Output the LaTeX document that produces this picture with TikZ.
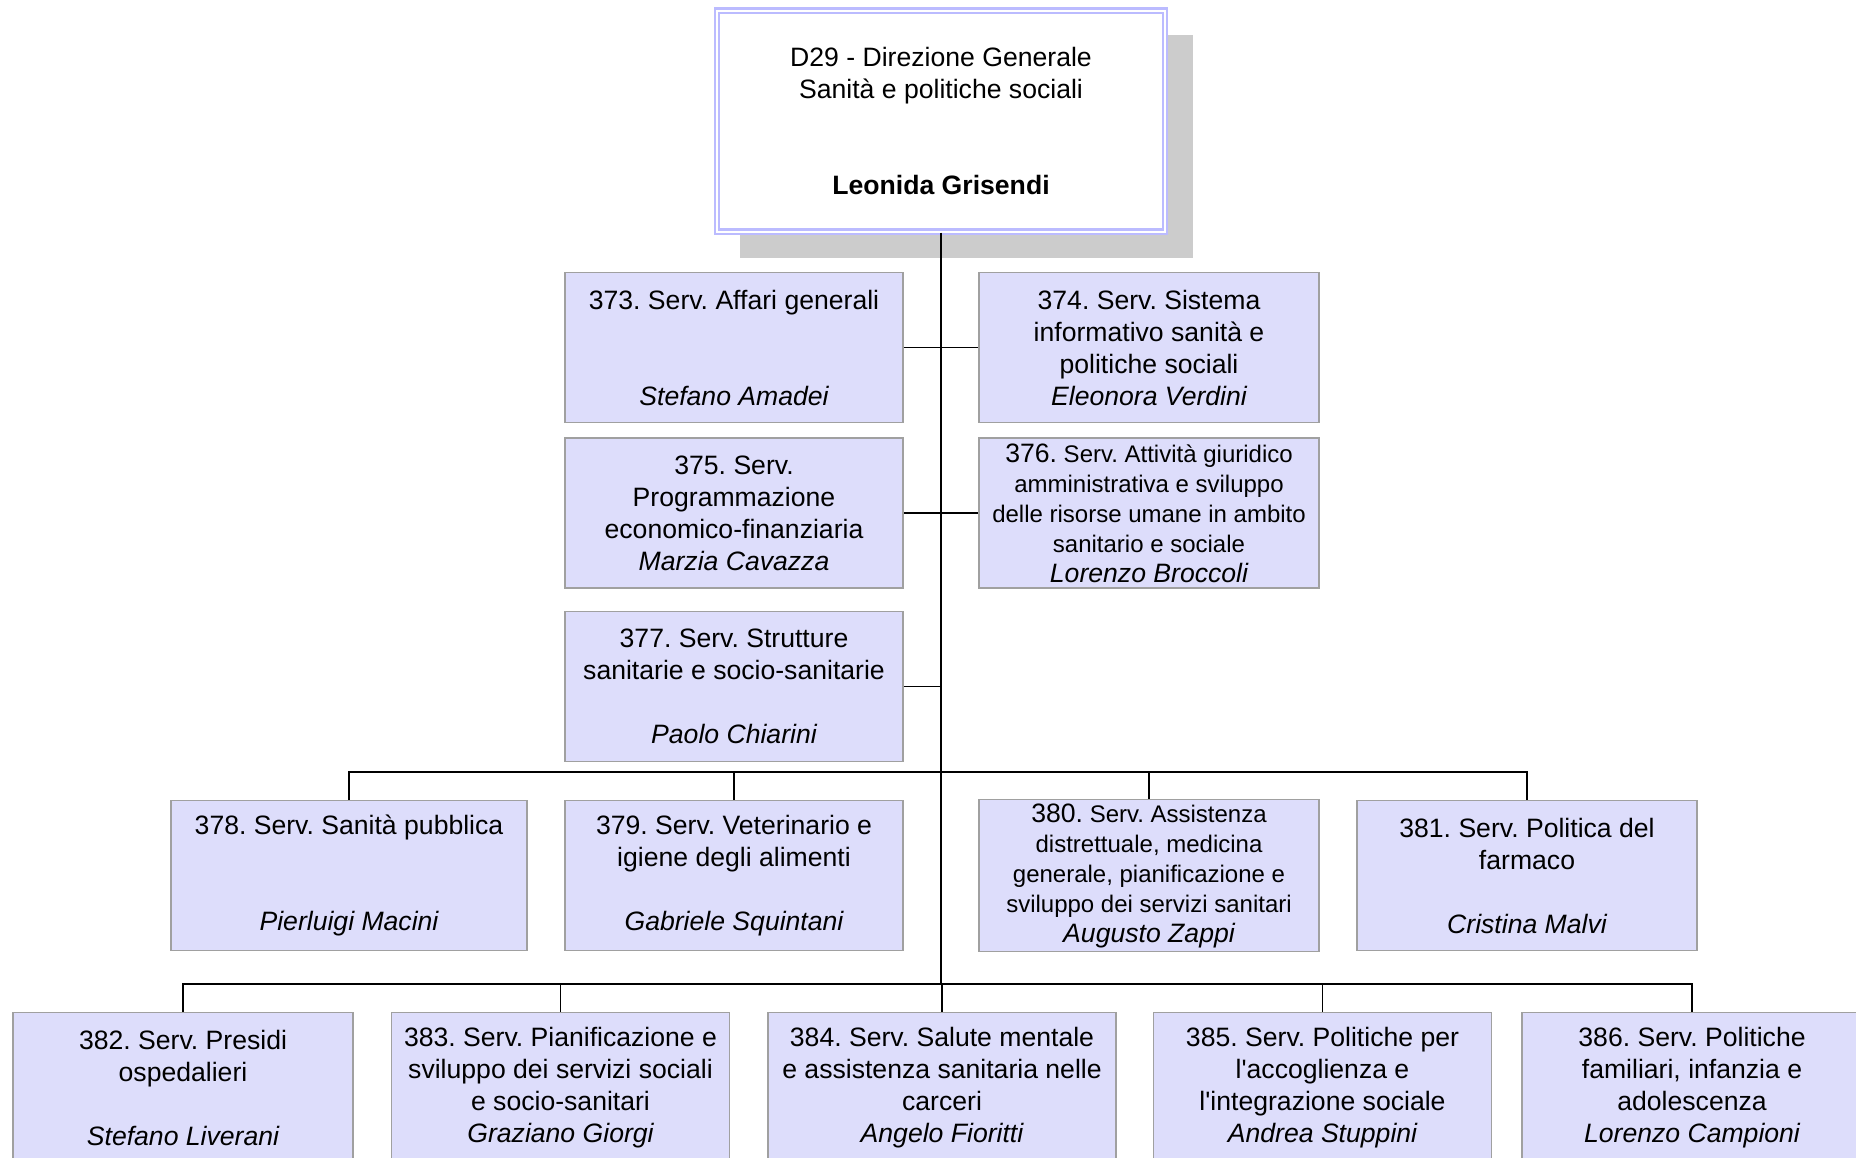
\documentclass[tikz,border=0pt]{standalone}
\usepackage{fontspec}
\newfontfamily\orgfont{Liberation Sans}
\usetikzlibrary{shadows}
\definecolor{boxfill}{RGB}{221,221,251}
\definecolor{boxedge}{RGB}{160,160,160}
\definecolor{toplav}{RGB}{187,187,255}
\definecolor{shadowgray}{RGB}{204,204,204}
\newcommand{\bignum}[1]{{\fontsize{13.3}{15}\selectfont #1}}
\newcommand{\who}[1]{{\fontsize{13.3}{16}\selectfont\itshape #1}}
\frenchspacing
\begin{document}
\begin{tikzpicture}[x=0.5pt,y=-0.5pt,
  box/.style={draw=boxedge,fill=boxfill,line width=0.75pt,minimum width=#1,minimum height=75pt,inner sep=2pt,align=center,font=\orgfont\fontsize{13.3}{16}\selectfont},
  box/.default=169pt,
  smallbox/.style={box=#1,font=\orgfont\fontsize{12}{15}\selectfont},
  smallbox/.default=170pt,
  topbox/.style={draw=toplav,double=white,double distance=1pt,line width=1.1pt,fill=white,minimum width=224pt,minimum height=110.5pt,align=center,font=\orgfont\fontsize{13.3}{16}\selectfont,drop shadow={shadow xshift=12.5pt,shadow yshift=-12.5pt,shadow scale=1.01,fill=shadowgray,opacity=1}},
  link/.style={line width=0.65pt},
  trunk/.style={line width=1.4pt}]
\clip (0,0) rectangle (1856,1157);
\node[topbox] (top) at (941,121) {D29 - Direzione Generale\\Sanità e politiche sociali\\ \\ \\\textbf{Leonida Grisendi}};
\node[box] (b373) at (734,347.5) {373. Serv. Affari generali\\ \\ \\\who{Stefano Amadei}};
\node[box=170pt] (b374) at (1149,347.5) {374. Serv. Sistema\\informativo sanità e\\politiche sociali\\\who{Eleonora Verdini}};
\node[box] (b375) at (734,513) {375. Serv.\\Programmazione\\economico-finanziaria\\\who{Marzia Cavazza}};
\node[smallbox] (b376) at (1149,513) {\bignum{376.} Serv. Attività giuridico\\amministrativa e sviluppo\\delle risorse umane in ambito\\sanitario e sociale\\\who{Lorenzo Broccoli}};
\node[box] (b377) at (734,686.5) {377. Serv. Strutture\\sanitarie e socio-sanitarie\\ \\\who{Paolo Chiarini}};
\node[box=178pt] (b378) at (349,875.5) {378. Serv. Sanità pubblica\\ \\ \\\who{Pierluigi Macini}};
\node[box] (b379) at (734,875.5) {379. Serv. Veterinario e\\igiene degli alimenti\\ \\\who{Gabriele Squintani}};
\node[smallbox] (b380) at (1149,875.5) {\bignum{380.} Serv. Assistenza\\distrettuale, medicina\\generale, pianificazione e\\sviluppo dei servizi sanitari\\\who{Augusto Zappi}};
\node[box=170pt] (b381) at (1527,875.5) {381. Serv. Politica del\\farmaco\\ \\\who{Cristina Malvi}};
\node[box=170pt] (b382) at (183,1087.5) {382. Serv. Presidi\\ospedalieri\\ \\\who{Stefano Liverani}};
\node[box] (b383) at (560.5,1087.5) {383. Serv. Pianificazione e\\sviluppo dei servizi sociali\\e socio-sanitari\\\who{Graziano Giorgi}};
\node[box=174pt] (b384) at (942,1087.5) {384. Serv. Salute mentale\\e assistenza sanitaria nelle\\carceri\\\who{Angelo Fioritti}};
\node[box] (b385) at (1322.5,1087.5) {385. Serv. Politiche per\\l'accoglienza e\\l'integrazione sociale\\\who{Andrea Stuppini}};
\node[box=170pt] (b386) at (1692,1087.5) {386. Serv. Politiche\\familiari, infanzia e\\adolescenza\\\who{Lorenzo Campioni}};
\coordinate (bus3) at (941,772);
\coordinate (bus4) at (941,984);
\draw[link] (b373.east) -- (b374.west);
\draw[link] (b375.east) -- (b376.west);
\draw[link] (b377.east) -- (b377.east -| bus3);
\foreach \n in {378,...,381}
\draw[link] (bus3) -| (b\n.north);
\foreach \n in {382,...,386}
\draw[link] (bus4) -| (b\n.north);
\draw[trunk] (top.south) -- (bus4);
\end{tikzpicture}
\end{document}
